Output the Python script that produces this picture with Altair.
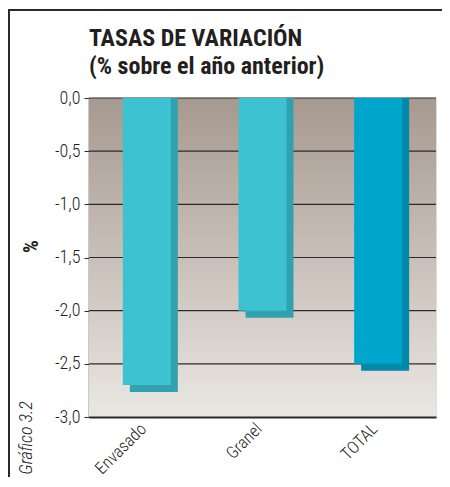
import altair as alt
import pandas as pd

categories = ["Envasado", "Granel", "TOTAL"]
values = [-2.7, -2.0, -2.5]
front_colors = ["#3DC2D1", "#3DC2D1", "#00A5CB"]
side_colors = ["#30A2AF", "#30A2AF", "#0089A8"]
grid_values = [0.0, -0.5, -1.0, -1.5, -2.0, -2.5, -3.0]
title_lines = ["TASAS DE VARIACIÓN", "(% sobre el año anterior)"]
side_label = "Gráfico 3.2"

FONT = "Roboto Condensed, Liberation Sans Narrow, Roboto"
W, H = 347, 319

df = pd.DataFrame({"cat": categories, "val": values})
grid_df = pd.DataFrame({"g": grid_values})

xenc = alt.X("cat:N", sort=categories, title=None,
             axis=alt.Axis(labelAngle=315, labelFont=FONT, labelFontSize=17,
                           labelFontWeight=300, labelBaseline="middle", labelAlign="right",
                           labelOffset=-3,
                           labelColor="#231f20", ticks=False, domainColor="#2b2b2b",
                           domainWidth=2, labelPadding=9))
yscale = alt.Scale(domain=[-3, 0], nice=False)

bg = alt.Chart(df).mark_rect(
    color=alt.LinearGradient(gradient="linear", x1=0, x2=0, y1=0, y2=1,
                             stops=[alt.GradientStop(color="#A69990", offset=0),
                                    alt.GradientStop(color="#CFC7C0", offset=0.6),
                                    alt.GradientStop(color="#EAE7E3", offset=1)])
).encode(x=alt.value(0), x2=alt.value(W), y=alt.value(0), y2=alt.value(H))

grid = alt.Chart(grid_df).mark_rule(color="#2b2b2b", strokeWidth=1.2).encode(
    y=alt.Y("g:Q", scale=yscale),
    x=alt.value(0), x2=alt.value(W))

side = alt.Chart(df).mark_bar(size=48, xOffset=7, yOffset=7, y2Offset=0).encode(
    x=xenc,
    y=alt.Y("val:Q", scale=yscale),
    y2=alt.datum(0),
    color=alt.Color("cat:N", scale=alt.Scale(domain=categories, range=side_colors), legend=None))

front = alt.Chart(df).mark_bar(size=48).encode(
    x=xenc,
    y=alt.Y("val:Q", scale=yscale, title="%",
            axis=alt.Axis(values=grid_values, grid=False, tickSize=5, tickColor="#2b2b2b",
                          domainColor="#2b2b2b", domainWidth=1.5,
                          labelExpr="replace(replace(format(datum.value, '.1f'), '.', ','), '\u2212', '-')",
                          labelFont=FONT, labelFontSize=18, labelFontWeight=300,
                          labelColor="#231f20",
                          labelPadding=4, titleFont=FONT, titleFontSize=20,
                          titleFontWeight="bold", titleColor="#231f20",
                          titleX=-58, titleY=148, titleAlign="center",
                          titleBaseline="middle")),
    color=alt.Color("cat:N", scale=alt.Scale(domain=categories, range=front_colors), legend=None))

side_txt = alt.Chart(pd.DataFrame({"t": [side_label]})).mark_text(
    angle=270, font=FONT, fontSize=18, fontStyle="italic", fontWeight=300, color="#231f20",
    align="center", baseline="middle").encode(
    text="t:N", x=alt.value(-62), y=alt.value(340))

title1 = alt.Chart(pd.DataFrame({"t": [title_lines[0]]})).mark_text(
    font=FONT, fontSize=24, fontWeight="bold", color="#231f20",
    align="left", baseline="alphabetic").encode(
    text="t:N", x=alt.value(0), y=alt.value(-52))
title2 = alt.Chart(pd.DataFrame({"t": [title_lines[1]]})).mark_text(
    font=FONT, fontSize=24, fontWeight="bold", color="#231f20",
    align="left", baseline="alphabetic").encode(
    text="t:N", x=alt.value(0), y=alt.value(-24))

frame_top = alt.Chart(df).mark_rule(color="#2b2b2b", strokeWidth=2).encode(
    x=alt.value(-81), x2=alt.value(W + 10), y=alt.value(-88))
frame_left = alt.Chart(df).mark_rule(color="#2b2b2b", strokeWidth=2).encode(
    x=alt.value(-80), y=alt.value(-88), y2=alt.value(H + 62))

chart = alt.layer(bg, grid, side, front, side_txt, title1, title2, frame_top, frame_left).resolve_scale(
    color="independent"
).properties(
    width=W, height=H,
    autosize=alt.AutoSizeParams(type="none"),
    padding={"left": 81, "top": 90, "right": 6, "bottom": 60},
).configure_view(stroke="#2b2b2b", strokeWidth=1.5).configure(background="white")

chart.save("out.html", embed_options={"renderer": "svg", "actions": False})
